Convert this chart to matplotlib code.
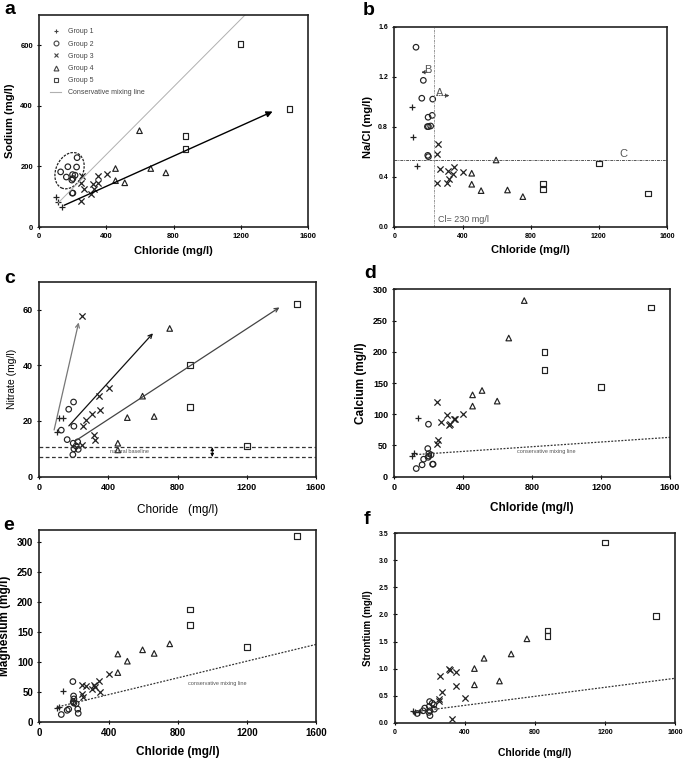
import numpy as np
import matplotlib
matplotlib.use('Agg')
import matplotlib.pyplot as plt
from matplotlib.patches import Ellipse
from matplotlib.lines import Line2D
from matplotlib.transforms import ScaledTranslation

plt.rcParams['font.family'] = ['Liberation Sans', 'DejaVu Sans']

# chloride per group (same samples in every panel)
cl_g1 = [102, 112, 135]
cl_g2 = [127, 170, 161, 225, 198, 222, 194, 200, 213, 196, 200]
cl_g3 = [255, 249, 249, 268, 307, 317, 323, 350, 347, 401]
cl_g4 = [597, 454, 454, 509, 664, 754]
cl_g5 = [871, 871, 1200, 1490]

# sodium
na_g1 = [98, 81, 65]
na_g2 = [182, 199, 165, 229, 173, 198, 155, 160, 171, 112, 112]
na_g3 = [169, 145, 86, 124, 108, 142, 124, 168, 146, 174]
na_g4 = [318, 193, 153, 146, 193, 179]
na_g5 = [300, 258, 604, 390]

# Na/Cl
ratio_g1 = [0.96, 0.72, 0.485]
ratio_g2 = [1.435, 1.17, 1.027, 1.02, 0.875, 0.89, 0.80, 0.80, 0.805, 0.57, 0.56]
ratio_g3 = [0.661, 0.584, 0.347, 0.464, 0.352, 0.448, 0.384, 0.48, 0.42, 0.435]
ratio_g4 = [0.533, 0.427, 0.339, 0.288, 0.293, 0.24]
ratio_g5 = [0.345, 0.298, 0.505, 0.265]

# nitrate
no3_g1 = [16, 21, 21]
no3_g2 = [16.7, 24.2, 13.3, 9.8, 26.8, 12.5, 7.9, 18.1, 11, 12, 10]
no3_g3 = [18.1, 57.5, 11.3, 20.2, 22.6, 14.9, 13.3, 23.8, 28.8, 31.9]
no3_g4 = [28.9, 12, 9.6, 21.2, 21.6, 53.2]
no3_g5 = [40, 25, 11, 62]

# calcium
ca_g1 = [33, 38, 94]
ca_g2 = [13, 28, 19, 20, 84, 20, 45, 37, 35, 31, 33]
ca_g3 = [59, 120, 53, 87, 99, 82, 84, 93, 92, 100]
ca_g4 = [121, 131, 113, 138, 222, 282]
ca_g5 = [200, 171, 144, 271]

# magnesium
mg_g1 = [23, 25, 51]
mg_g2 = [12, 21, 19, 14, 43, 21, 67, 38, 30, 33, 31]
mg_g3 = [42, 62, 47, 60, 55, 62, 58, 49, 68, 80]
mg_g4 = [120, 113, 82, 101, 114, 130]
mg_g5 = [187, 161, 125, 310]

# strontium
sr_g1 = [0.21, 0.20, 0.19]
sr_g2 = [0.17, 0.27, 0.22, 0.25, 0.39, 0.33, 0.19, 0.13, 0.36, 0.30, 0.22]
sr_g3 = [0.87, 0.43, 0.40, 0.56, 1.0, 0.98, 0.07, 0.93, 0.68, 0.45]
sr_g4 = [0.77, 1.0, 0.70, 1.19, 1.27, 1.55]
sr_g5 = [1.70, 1.60, 3.33, 1.97]

GROUPS = ['Group 1', 'Group 2', 'Group 3', 'Group 4', 'Group 5']
MARKERS = ['+', 'o', 'x', '^', 's']
CL = [cl_g1, cl_g2, cl_g3, cl_g4, cl_g5]
INK = '#222222'


def draw_groups(ax, values):
    for i, (x, y) in enumerate(zip(CL, values)):
        m = MARKERS[i]
        if m in ('+', 'x'):
            ax.scatter(x, y, marker=m, s=20, c=INK, linewidths=0.9)
        else:
            ax.scatter(x, y, marker=m, s=16, facecolors='none', edgecolors=INK, linewidths=0.85)


def style_axes(ax, ylim, yticks, fmt, tick_fs, xlabel, ylabel, xl_fs, yl_fs, weight='bold', xpad=4, ypad=4):
    ax.set_xlim(0, 1600)
    ax.set_ylim(*ylim)
    ax.set_xticks([0, 400, 800, 1200, 1600])
    ax.set_yticks(yticks)
    ax.set_yticklabels([fmt.format(t) for t in yticks])
    for lab in ax.get_xticklabels() + ax.get_yticklabels():
        lab.set_fontsize(tick_fs)
        lab.set_fontweight('bold')
    ax.tick_params(direction='inout', length=3, width=0.8, pad=3)
    for s in ax.spines.values():
        s.set_linewidth(1.2)
        s.set_color(INK)
    ax.set_xlabel(xlabel, fontsize=xl_fs, fontweight=weight, labelpad=xpad)
    ax.set_ylabel(ylabel, fontsize=yl_fs, fontweight=weight, labelpad=ypad)


fig = plt.figure(figsize=(6.85, 7.6), dpi=100)

ax_a = fig.add_axes([0.0574, 0.7013, 0.392, 0.279])
ax_b = fig.add_axes([0.5757, 0.7018, 0.398, 0.2632])
ax_c = fig.add_axes([0.0574, 0.3728, 0.4039, 0.2566])
ax_d = fig.add_axes([0.5757, 0.3728, 0.4024, 0.2465])
ax_e = fig.add_axes([0.0574, 0.0504, 0.404, 0.2522])
ax_f = fig.add_axes([0.5766, 0.0491, 0.4088, 0.2492])

# a: sodium
ax_a.plot([113, 1226], [80, 700], color='#b0b0b0', lw=0.7)
ax_a.annotate('', xy=(1405, 385), xytext=(133, 68),
              arrowprops=dict(arrowstyle='-|>', color='k', lw=1.0, mutation_scale=9))
draw_groups(ax_a, [na_g1, na_g2, na_g3, na_g4, na_g5])
trans = fig.dpi_scale_trans + ScaledTranslation(180, 186, ax_a.transData)
ax_a.add_patch(Ellipse((0, 0), 0.27, 0.38, angle=-25, transform=trans, fill=False,
                       ls=(0, (2, 1)), lw=0.9, ec=INK))
handles = [Line2D([], [], ls='none', marker=m, ms=3.5, mfc='none', mec='#444444', mew=0.8)
           for m in MARKERS]
handles.append(Line2D([], [], color='#b0b0b0', lw=0.8))
ax_a.legend(handles, GROUPS + ['Conservative mixing line'], loc='upper left',
            bbox_to_anchor=(0.03, 0.95), frameon=False, fontsize=5, labelcolor='#444444',
            handlelength=1.6, handletextpad=0.9, labelspacing=0.75, borderaxespad=0)
style_axes(ax_a, (0, 700), [0, 200, 400, 600], '{:d}', 5.5,
           'Chloride (mg/l)', 'Sodium (mg/l)', 8, 8)

# b: Na/Cl ratio
ax_b.axvline(230, color='#888888', lw=0.6, ls=(0, (3, 1, 1, 1)))
ax_b.axhline(0.533, color='#555555', lw=0.7, ls=(0, (3, 1, 1, 1)))
draw_groups(ax_b, [ratio_g1, ratio_g2, ratio_g3, ratio_g4, ratio_g5])
ax_b.annotate('', xy=(140, 1.235), xytext=(228, 1.235),
              arrowprops=dict(arrowstyle='-|>', color='#333333', lw=0.6, ls=':', mutation_scale=6))
ax_b.text(195, 1.255, 'B', fontsize=8, color='#555555', ha='center', va='center')
ax_b.annotate('', xy=(340, 1.048), xytext=(235, 1.048),
              arrowprops=dict(arrowstyle='-|>', color='#333333', lw=0.6, ls=':', mutation_scale=6))
ax_b.text(268, 1.07, 'A', fontsize=8, color='#555555', ha='center', va='center')
ax_b.text(1345, 0.58, 'C', fontsize=8, color='#555555', ha='center', va='center')
ax_b.text(258, 0.06, 'Cl= 230 mg/l', fontsize=6.5, color='#555555', ha='left', va='center')
style_axes(ax_b, (0, 1.6), [0.0, 0.4, 0.8, 1.2, 1.6], '{:.1f}', 5,
           'Chloride (mg/l)', 'Na/Cl (mg/l)', 8, 8)

# c: nitrate
ax_c.axhline(10.7, color='#333333', lw=0.9, ls=(0, (3, 2)))
ax_c.axhline(7.0, color='#333333', lw=0.9, ls=(0, (3, 2)))
ax_c.text(520, 8.9, 'natural baseline', fontsize=4, color='#555555', ha='center', va='center')
# range marker between the two baselines
for y_end in (10.6, 7.1):
    ax_c.annotate('', xy=(1000, y_end), xytext=(1000, 8.85),
                  arrowprops=dict(arrowstyle='-|>', color='k', lw=0.6, mutation_scale=5,
                                  shrinkA=0, shrinkB=0))
ax_c.annotate('', xy=(231, 56.3), xytext=(82, 15.8),
              arrowprops=dict(arrowstyle='->', color='#777777', lw=0.9, mutation_scale=7))
ax_c.annotate('', xy=(668, 52.2), xytext=(160, 17.5),
              arrowprops=dict(arrowstyle='->', color='#111111', lw=0.9, mutation_scale=7))
ax_c.annotate('', xy=(1402, 61.3), xytext=(200, 12.5),
              arrowprops=dict(arrowstyle='->', color='#444444', lw=0.9, mutation_scale=7))
draw_groups(ax_c, [no3_g1, no3_g2, no3_g3, no3_g4, no3_g5])
style_axes(ax_c, (0, 70), [0, 20, 40, 60], '{:d}', 6.5,
           'Choride   (mg/l)', 'Nitrate (mg/l)', 8.5, 7.5, weight='normal', xpad=9)

# d: calcium
ax_d.plot([106, 1600], [35, 63], color='#333333', lw=0.9, ls=(0, (1.5, 1.2)))
ax_d.text(880, 40, 'conservative mixing line', fontsize=4, color='#555555', ha='center', va='center')
draw_groups(ax_d, [ca_g1, ca_g2, ca_g3, ca_g4, ca_g5])
style_axes(ax_d, (0, 300), [0, 50, 100, 150, 200, 250, 300], '{:d}', 6.5,
           'Chloride (mg/l)', 'Calcium (mg/l)', 8.5, 8.5, xpad=7)

# e: magnesium
ax_e.plot([110, 1600], [25, 129], color='#333333', lw=0.9, ls=(0, (1.5, 1.2)))
ax_e.text(1030, 64, 'conservative mixing line', fontsize=4, color='#555555', ha='center', va='center')
draw_groups(ax_e, [mg_g1, mg_g2, mg_g3, mg_g4, mg_g5])
style_axes(ax_e, (0, 320), [0, 50, 100, 150, 200, 250, 300], '{:d}', 7,
           'Chloride (mg/l)', 'Magnesium (mg/l)', 8.5, 8.5, xpad=6)

# f: strontium
ax_f.plot([110, 1600], [0.2, 0.82], color='#333333', lw=0.9, ls=(0, (1.5, 1.2)))
draw_groups(ax_f, [sr_g1, sr_g2, sr_g3, sr_g4, sr_g5])
style_axes(ax_f, (0, 3.5), [0.0, 0.5, 1.0, 1.5, 2.0, 2.5, 3.0, 3.5], '{:.1f}', 5,
           'Chloride (mg/l)', 'Strontium (mg/l)', 7.5, 7, xpad=9)

# panel letters
for letter, (px, py) in zip('abcdef', [(4, 1), (363, 2), (4, 270), (364, 265), (3, 517), (364, 511)]):
    fig.text(px / 685, 1 - py / 760, letter, fontsize=14, fontweight='bold', va='top', ha='left')

fig.savefig('out.png', dpi=100)
